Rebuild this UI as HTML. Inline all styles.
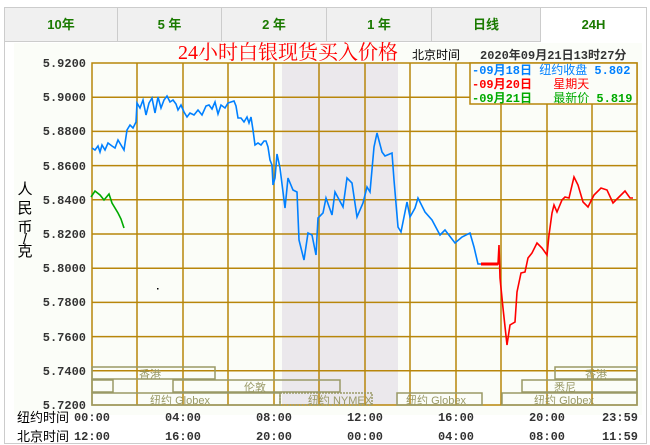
<!DOCTYPE html>
<html><head><meta charset="utf-8"><style>
body{margin:0;background:#fff;width:650px;height:445px;overflow:hidden;font-family:"Liberation Sans","Noto Sans CJK SC",sans-serif}
.wrap{position:absolute;left:4px;top:7px;width:641px;height:435px;border:1px solid #ccc;background:#fff}
.tab{position:absolute;top:0;height:34px;line-height:34px;text-align:center;background:#f0f0f0;border-right:1px solid #ccc;border-bottom:1px solid #ccc;color:#1a7a00;font-weight:bold;font-size:13px;box-sizing:border-box}
</style></head><body>
<div class="wrap">
<div class="tab" style="left:0;width:113px">10年</div>
<div class="tab" style="left:113px;width:104px">5 年</div>
<div class="tab" style="left:217px;width:105px">2 年</div>
<div class="tab" style="left:322px;width:105px">1 年</div>
<div class="tab" style="left:427px;width:109px">日线</div>
<div class="tab" style="left:536px;width:105px;background:#fff;border-bottom:none;border-right:none">24H</div>
</div>
<svg width="650" height="445" style="position:absolute;left:0;top:0" font-family="Liberation Mono, Noto Sans CJK SC, monospace">
<rect x="14" y="43" width="628" height="372" fill="#fbfdf8"/>
<rect x="282" y="63" width="116" height="342" fill="#ebe8ec"/>
<text x="288" y="59" text-anchor="middle" fill="#f00" font-size="20" font-family="Liberation Serif, Noto Serif CJK SC, serif">24小时白银现货买入价格</text>
<text x="412" y="59" fill="#000" font-size="12" font-family="Liberation Sans, Noto Sans CJK SC, sans-serif">北京时间</text>
<text x="480" y="59" fill="#333" font-size="12" font-weight="bold">2020年09月21日13时27分</text>
<g fill="#333" font-size="12" font-weight="bold" text-anchor="end">
<text x="86" y="67">5.9200</text><text x="86" y="101">5.9000</text><text x="86" y="135">5.8800</text><text x="86" y="170">5.8600</text><text x="86" y="204">5.8400</text><text x="86" y="238">5.8200</text><text x="86" y="272">5.8000</text><text x="86" y="306">5.7800</text><text x="86" y="341">5.7600</text><text x="86" y="375">5.7400</text><text x="86" y="409">5.7200</text>
</g>
<g font-size="15" fill="#000" font-family="Liberation Sans, Noto Sans CJK SC, sans-serif" text-anchor="middle">
<text x="25" y="194">人</text><text x="25" y="213">民</text><text x="25" y="232">币</text><text x="25" y="244">/</text><text x="25" y="256">克</text></g>
<g stroke="#b8860b" stroke-width="1.5" fill="none">
<path d="M92 97.2H637M92 131.4H637M92 165.6H637M92 199.8H637M92 234H637M92 268.2H637M92 302.4H637M92 336.6H637M92 370.8H637"/>
<path d="M137 63V405M183 63V405M228 63V405M274 63V405M319 63V405M365 63V405M410 63V405M456 63V405M501 63V405M547 63V405M592 63V405"/>
<rect x="92" y="63" width="545" height="342"/>
</g>
<g stroke="#999966" stroke-width="1.5" fill="none">
<rect x="92" y="367" width="123" height="12"/><rect x="92" y="380" width="21" height="12"/><rect x="173" y="380" width="167" height="12"/>
<rect x="92" y="393" width="188" height="12"/><rect x="280" y="393" width="92" height="12" stroke-dasharray="2 1"/><rect x="397" y="393" width="85" height="12"/><rect x="502" y="393" width="135" height="12"/>
<rect x="522" y="380" width="115" height="12"/><rect x="555" y="367" width="82" height="12"/>
</g>
<g fill="#999966" font-size="11" font-family="Liberation Sans, Noto Sans CJK SC, sans-serif" text-anchor="middle">
<text x="150" y="378">香港</text><text x="255" y="391">伦敦</text><text x="180" y="404">纽约 Globex</text><text x="340" y="404">纽约 NYMEX</text><text x="436" y="404">纽约 Globex</text><text x="564" y="404">纽约 Globex</text><text x="565" y="391">悉尼</text><text x="596" y="378">香港</text>
</g>
<rect x="470" y="63" width="167" height="41" fill="#fbfdf8" stroke="#b8860b" stroke-width="1.5"/>
<g font-size="12" font-weight="bold">
<text x="472" y="74" fill="#0080ff">-09月18日 <tspan font-weight="normal" font-family="Liberation Sans, Noto Sans CJK SC, sans-serif">纽约收盘</tspan> 5.802</text>
<text x="472" y="88" fill="#f00">-09月20日 <tspan dx="14" font-weight="normal" font-family="Liberation Sans, Noto Sans CJK SC, sans-serif">星期天</tspan></text>
<text x="472" y="102" fill="#00aa00">-09月21日 <tspan dx="14" font-weight="normal" font-family="Liberation Sans, Noto Sans CJK SC, sans-serif">最新价</tspan> 5.819</text>
</g>
<polyline fill="none" stroke="#0080ff" stroke-width="1.6" points="92,148 95,150 98,146 100,152 102,145 105,150 108,143 112,146 115,148 118,140 121,145 124,150 127,130 130,125 133,128 136,122 137,103 140,108 143,100 146,115 149,103 152,98 155,113 158,97 161,108 164,100 167,96 170,102 173,100 176,104 178,110 181,105 184,112 187,117 190,113 194,115 198,110 202,115 206,106 209,105 212,109 215,102 218,114 221,105 225,108 228,103 231,102 234,101 236,106 238,118 241,118 244,122 247,117 249,123 251,117 253,130 255,145 258,143 261,145 264,141 266,141 268,147 270,160 272,165 273,185 275,178 277,154 280,168 285,208 288,178 293,190 297,192 299,240 304,260 308,233 312,235 316,255 318,218 323,213 326,198 332,215 335,192 343,207 347,178 352,183 357,217 363,203 367,187 370,192 374,147 377,133 382,152 385,156 392,153 394,180 398,227 401,232 407,202 410,217 415,208 418,198 425,212 432,220 440,235 445,230 455,243 462,237 470,233 474,247 478,264 481,264"/>
<polyline fill="none" stroke="#f00" stroke-width="1.6" points="481,264 498,264 499,245 500,278 503,308 507,345 510,325 515,322 517,292 521,273 525,272 528,258 532,253 537,243 542,248 547,255 549,235 552,213 554,205 557,212 562,200 565,197 569,198 574,177 578,185 583,202 588,207 594,195 601,188 607,190 613,203 618,198 625,191 630,198 633,198"/>
<path d="M481 264H498" stroke="#f00" stroke-width="3"/>
<polyline fill="none" stroke="#00aa00" stroke-width="1.6" points="91,197 95,191 100,195 104,200 109,194 112,203 118,213 121,219 124,228"/>
<rect x="157" y="288" width="1.5" height="1.5" fill="#000"/>
<g font-size="12" font-weight="bold" fill="#333">
<text x="92" y="421" text-anchor="middle">00:00</text><text x="183" y="421" text-anchor="middle">04:00</text><text x="274" y="421" text-anchor="middle">08:00</text><text x="365" y="421" text-anchor="middle">12:00</text><text x="456" y="421" text-anchor="middle">16:00</text><text x="547" y="421" text-anchor="middle">20:00</text><text x="620" y="421" text-anchor="middle">23:59</text>
<text x="92" y="440" text-anchor="middle">12:00</text><text x="183" y="440" text-anchor="middle">16:00</text><text x="274" y="440" text-anchor="middle">20:00</text><text x="365" y="440" text-anchor="middle">00:00</text><text x="456" y="440" text-anchor="middle">04:00</text><text x="547" y="440" text-anchor="middle">08:00</text><text x="620" y="440" text-anchor="middle">11:59</text>
</g>
<g font-size="13" fill="#000" font-family="Liberation Sans, Noto Sans CJK SC, sans-serif">
<text x="17" y="422">纽约时间</text><text x="17" y="441">北京时间</text></g>
</svg>
</body></html>
